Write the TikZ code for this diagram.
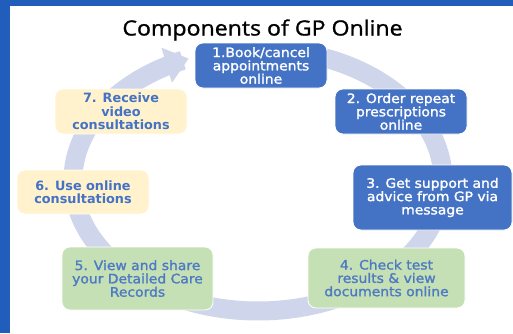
\documentclass[tikz,border=0pt]{standalone}
\usepackage{fontspec}
\usepackage{tikz}
\usetikzlibrary{arrows.meta}
\newfontfamily\titlefont[FakeStretch=1.1, FakeBold=1.2]{Open Sans}
\newfontfamily\cardfont[FakeStretch=1.07, FakeBold=1.6]{DejaVu Sans}
\newfontfamily\cardbold{DejaVu Sans}
\definecolor{gpframe}{HTML}{215EBB}
\definecolor{gpblue}{HTML}{4472C4}
\definecolor{gptext}{HTML}{4E7AC4}
\definecolor{gpyellow}{HTML}{FFF2CC}
\definecolor{gpgreen}{HTML}{C5E0B4}
\definecolor{gpring}{HTML}{CFD5EA}
\tikzset{card/.style = {draw=white, line width=0.8pt, rectangle, rounded corners=8pt, align=center, inner sep=0pt,
                        font=\cardfont\fontsize{13}{13.3}\selectfont},
         bluecard/.style = {card, fill=gpblue, text=white},
         yellowcard/.style = {card, fill=gpyellow, text=gpblue, font=\cardbold\bfseries\fontsize{12.8}{13.3}\selectfont},
         greencard/.style = {card, fill=gpgreen, text=gptext},
         ring/.style = {draw=gpring, line width=19pt, -{Triangle[width=35pt, length=23pt]}},
}

\begin{document}
\begin{tikzpicture}[x=1pt, y=-1pt]

  % page and frame
  \fill[white] (0,0) rectangle (513,333);
  \fill[gpframe] (0,0) rectangle (10,333);
  \fill[gpframe] (0,0) rectangle (513,6);
  \useasboundingbox (0,0) rectangle (513,333);

  \node[anchor=base, font=\titlefont\fontsize{21}{24}\selectfont] (title) at (262.5,35.5) {Components of GP Online};

  % the cycle behind the cards
  \draw[ring] plot[domain=-72:248, samples=160] ({258+185*cos(\x)}, {180+131*sin(\x)});

  \node[bluecard, minimum width=132pt, minimum height=45pt] (book) at (261,65.5) {1.Book/cancel\\appointments\\online};
  \node[bluecard, minimum width=132pt, minimum height=45pt] (repeat_rx) at (401,111.5) {2. Order repeat\\prescriptions\\online};
  \node[bluecard, minimum width=159pt, minimum height=65pt] (advice) at (432.5,197.5) {3. Get support and\\advice from GP via\\message};
  \node[greencard, minimum width=157pt, minimum height=60pt] (results) at (386.5,278) {4. Check test\\results \& view\\documents online};
  \node[greencard, minimum width=151pt, minimum height=63pt] (records) at (137.5,278.5) {5. View and share\\your Detailed Care\\Records};
  \node[yellowcard, minimum width=132pt, minimum height=44pt] (online_consult) at (83,192) {6. Use online\\consultations};
  \node[yellowcard, minimum width=132pt, minimum height=45pt] (video) at (121,111.5) {7. Receive\\video\\consultations};

\end{tikzpicture}
\end{document}
